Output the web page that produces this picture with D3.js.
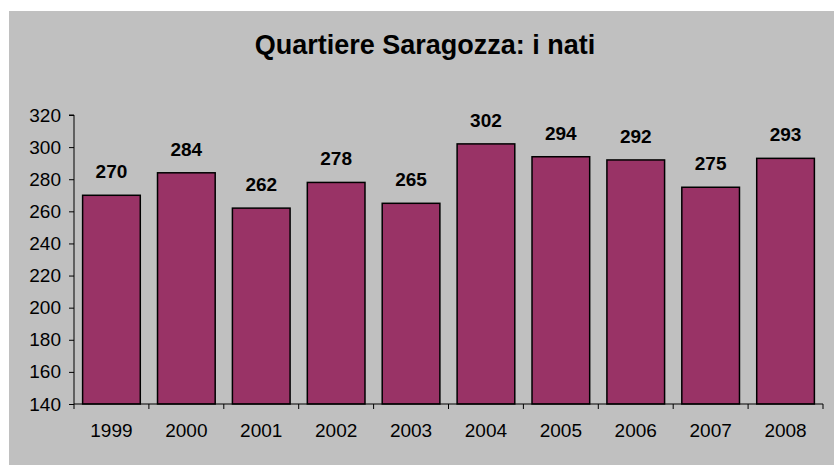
<!DOCTYPE html>
<html>
<head>
<meta charset="utf-8">
<script src="https://cdn.jsdelivr.net/npm/d3@7"></script>
<style>
  body { margin: 0; background: #fff; }
  svg { display: block; font-family: "Liberation Sans", Arial, sans-serif; }
</style>
</head>
<body>
<div id="chart"></div>
<script>
var years = ["1999", "2000", "2001", "2002", "2003", "2004", "2005", "2006", "2007", "2008"];
var births = [270, 284, 262, 278, 265, 302, 294, 292, 275, 293];
var yTicks = [140, 160, 180, 200, 220, 240, 260, 280, 300, 320];
var chartTitle = "Quartiere Saragozza: i nati";

var WIDTH = 834, HEIGHT = 465;
var MARGINS = { top: 115, right: 11, bottom: 61, left: 74 };

var svg = d3.select("#chart").append("svg")
  .attr("width", WIDTH).attr("height", HEIGHT);

// grey chart area
svg.append("rect")
  .attr("x", 9).attr("y", 11)
  .attr("width", WIDTH - 9).attr("height", HEIGHT - 11)
  .attr("fill", "#c0c0c0");

svg.append("text")
  .attr("x", 425).attr("y", 54)
  .attr("text-anchor", "middle")
  .style("font-size", "27px").style("font-weight", "bold")
  .text(chartTitle);

var xScale = d3.scaleBand()
  .domain(years)
  .range([MARGINS.left, WIDTH - MARGINS.right])
  .paddingInner(0.23).paddingOuter(0.115);

var yScale = d3.scaleLinear()
  .domain([140, 320])
  .range([HEIGHT - MARGINS.bottom, MARGINS.top]);

// bars
svg.append("g").selectAll("rect")
  .data(births)
  .enter().append("rect")
  .attr("x", function(d, i) { return xScale(years[i]); })
  .attr("y", function(d) { return yScale(d); })
  .attr("width", xScale.bandwidth())
  .attr("height", function(d) { return yScale(140) - yScale(d); })
  .attr("fill", "#993366")
  .attr("stroke", "#000")
  .attr("stroke-width", 1.5);

// value labels
svg.append("g").selectAll("text")
  .data(births)
  .enter().append("text")
  .attr("x", function(d, i) { return xScale(years[i]) + xScale.bandwidth() / 2; })
  .attr("y", function(d) { return yScale(d) - 17; })
  .attr("text-anchor", "middle")
  .style("font-size", "19px").style("font-weight", "bold")
  .text(function(d) { return d; });

// y axis
var yAxis = d3.axisLeft(yScale).tickValues(yTicks).tickSize(5).tickPadding(8);
var gY = svg.append("g")
  .attr("transform", "translate(" + MARGINS.left + ",0)")
  .call(yAxis);
gY.select(".domain").attr("d", "M-5," + yScale(320) + "H0V" + yScale(140));

// x axis, ticks on category boundaries
var gX = svg.append("g")
  .attr("transform", "translate(0," + yScale(140) + ")");
gX.append("line")
  .attr("x1", MARGINS.left).attr("x2", WIDTH - MARGINS.right)
  .attr("stroke", "#000");
var step = xScale.step();
var bounds = years.map(function(y) { return xScale(y) - step * 0.115; });
bounds.push(WIDTH - MARGINS.right);
gX.selectAll(".xt").data(bounds).enter().append("line")
  .attr("class", "xt")
  .attr("x1", function(d) { return d; }).attr("x2", function(d) { return d; })
  .attr("y1", 0).attr("y2", 5)
  .attr("stroke", "#000");
gX.selectAll(".xl").data(years).enter().append("text")
  .attr("class", "xl")
  .attr("x", function(d) { return xScale(d) + xScale.bandwidth() / 2; })
  .attr("y", 33)
  .attr("text-anchor", "middle")
  .style("font-size", "19px")
  .text(function(d) { return d; });

svg.selectAll(".tick text").style("font-size", "19px").attr("fill", "#000");
svg.selectAll(".tick line, .domain").attr("stroke", "#000");
</script>
</body>
</html>
